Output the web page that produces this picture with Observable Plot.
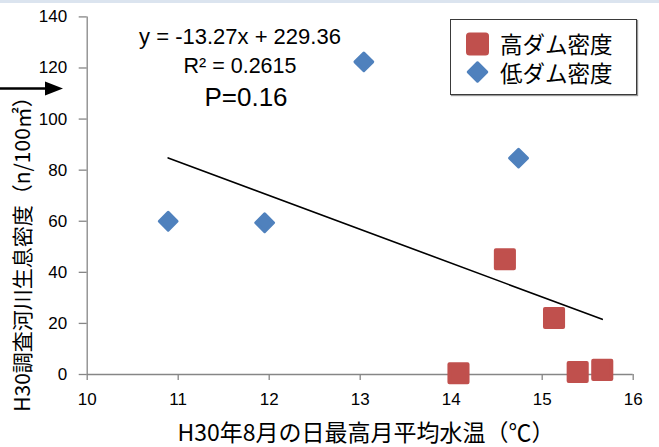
<!DOCTYPE html>
<html><head><meta charset="utf-8">
<script src="https://cdn.jsdelivr.net/npm/d3@7"></script>
<script src="https://cdn.jsdelivr.net/npm/@observablehq/plot@0.6"></script>
<style>
body{margin:0;background:#fff;}
#wrap{position:relative;width:659px;height:447px;overflow:hidden;background:#fff;}
#band{position:absolute;left:0;top:0;width:659px;height:3px;background:#dbe4ef;}
.ov{position:absolute;white-space:nowrap;color:#000;line-height:1;}
.eq{font-family:"Liberation Sans",Arial,sans-serif;transform:translate(-50%,-50%);}
.jp{font-family:"Noto Sans CJK JP",sans-serif;}
#legend{position:absolute;left:450px;top:19px;width:185px;height:74px;border:1px solid #3a3a3a;box-shadow:1px 1px 1px #999;background:#fff;}
</style></head><body>
<div id="wrap"><div id="band"></div></div>
<script>
// Data
const highX = [14.59, 15.13, 14.08, 15.39, 15.66];
const highY = [45.1, 22.1, 0.5, 1.0, 1.8];
const lowX = [10.89, 11.95, 13.04, 14.74];
const lowY = [60.0, 59.4, 122.4, 84.7];
const trendX = [10.89, 15.66];
const trendY = [84.8, 21.6];
const xTicks = [10, 11, 12, 13, 14, 15, 16];
const yTicks = [0, 20, 40, 60, 80, 100, 120, 140];
const seriesNames = ["高ダム密度", "低ダム密度"];
const annotations = ["y = -13.27x + 229.36", "R² = 0.2615", "P=0.16"];
const xTitle = "H30年8月の日最高月平均水温（℃）";
const yTitle = "H30調査河川生息密度（n/100㎡）";

const red = "#c0504d", blue = "#4f81bd", axisGray = "#868686";
const high = highX.map((x, i) => ({x, y: highY[i]}));
const low = lowX.map((x, i) => ({x, y: lowY[i]}));
const trend = trendX.map((x, i) => ({x, y: trendY[i]}));

const chart = Plot.plot({
  width: 659, height: 447,
  marginLeft: 86.7, marginRight: 26.3, marginTop: 16.4, marginBottom: 73,
  style: {fontFamily: "Liberation Sans, Arial, sans-serif", fontSize: "17px", background: "transparent", color: "#000"},
  x: {domain: [10, 16]},
  y: {domain: [0, 140]},
  marks: [
    Plot.ruleY([0], {stroke: axisGray, strokeWidth: 1.3}),
    Plot.ruleX([10], {stroke: axisGray, strokeWidth: 1.3}),
    Plot.axisX({ticks: xTicks, tickSize: 6, tickPadding: 12, stroke: axisGray, strokeWidth: 1.3, fill: "#000", label: null, tickFormat: d => String(d)}),
    Plot.axisY({ticks: yTicks, tickSize: 8, tickPadding: 12, stroke: axisGray, strokeWidth: 1.3, fill: "#000", label: null, tickFormat: d => String(d)}),
    Plot.line(trend, {x: "x", y: "y", stroke: "#000", strokeWidth: 1.6}),
    Plot.dot(low, {x: "x", y: "y", symbol: "diamond2", r: 8, fill: blue, stroke: blue, strokeWidth: 3, strokeLinejoin: "round"}),
    Plot.dot(high, {x: "x", y: "y", symbol: "square", r: 10.2, fill: red, stroke: red, strokeWidth: 4, strokeLinejoin: "round"})
  ]
});
const wrap = document.getElementById("wrap");
chart.style.position = "absolute"; chart.style.left = "0"; chart.style.top = "0";
wrap.appendChild(chart);

function addDiv(cls, text, css) {
  const d = document.createElement("div");
  d.className = "ov " + cls;
  d.textContent = text;
  Object.assign(d.style, css);
  wrap.appendChild(d);
  return d;
}
// regression annotations
addDiv("eq", annotations[0], {left: "240px", top: "37px", fontSize: "22px"});
addDiv("eq", annotations[1], {left: "240px", top: "67px", fontSize: "21.5px"});
addDiv("eq", annotations[2], {left: "246px", top: "97px", fontSize: "26px"});
// axis titles
addDiv("jp", xTitle, {left: "366px", top: "431px", fontSize: "23px", transform: "translate(-50%,-50%)"});
addDiv("jp", yTitle, {left: "21px", top: "249px", fontSize: "21px", transform: "translate(-50%,-50%) rotate(-90deg)"});

// legend
const lg = document.createElement("div");
lg.id = "legend";
lg.innerHTML =
  `<svg width="40" height="74" style="position:absolute;left:0;top:0">
     <rect x="15" y="12.5" width="23" height="23" rx="3.5" fill="${red}"/>
     <path d="M26.5,42.5 L36,52 L26.5,61.5 L17,52 Z" fill="${blue}" stroke="${blue}" stroke-width="2.5" stroke-linejoin="round"/>
   </svg>`;
wrap.appendChild(lg);
const items = [[43, seriesNames[0]], [72, seriesNames[1]]];
items.forEach(([cy, t]) => {
  addDiv("jp", t, {left: "500px", top: cy + "px", fontSize: "22.5px", transform: "translateY(-50%)"});
});

// arrow at left
const arr = document.createElementNS("http://www.w3.org/2000/svg", "svg");
arr.setAttribute("width", "70"); arr.setAttribute("height", "30");
arr.style.position = "absolute"; arr.style.left = "0"; arr.style.top = "74px";
arr.innerHTML = `<line x1="0" y1="14.5" x2="47" y2="14.5" stroke="#000" stroke-width="2.5"/><path d="M45,7.5 L63,14.5 L45,21.5 Z" fill="#000"/>`;
wrap.appendChild(arr);
</script>
</body></html>
